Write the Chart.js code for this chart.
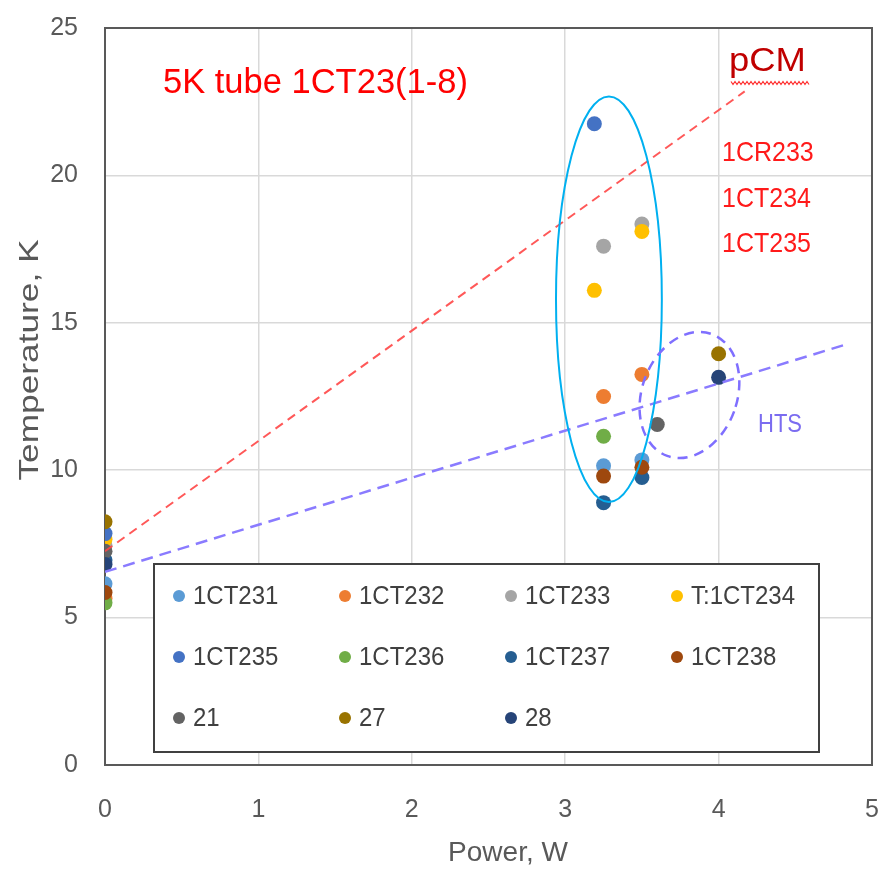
<!DOCTYPE html>
<html>
<head>
<meta charset="utf-8">
<script src="https://cdn.jsdelivr.net/npm/chart.js@4/dist/chart.umd.min.js"></script>
<style>
  html, body { margin: 0; padding: 0; background: #ffffff; }
  #wrap { width: 883px; height: 872px; }
</style>
</head>
<body>
<div id="wrap"><canvas id="c" width="883" height="872"></canvas></div>
<script>
// Sensor names and colours (legend order)
const seriesNames  = ['1CT231', '1CT232', '1CT233', 'T:1CT234', '1CT235', '1CT236', '1CT237', '1CT238', '21', '27', '28'];
const seriesColors = ['#5B9BD5', '#ED7D31', '#A5A5A5', '#FFC000', '#4472C4', '#70AD47', '#255E91', '#9E480E', '#636363', '#997300', '#264478'];

// Heat load (W) and measured temperature (K) for each sensor
const ct231Power = [0, 3.25, 3.5];   const ct231Temp = [6.15, 10.15, 10.35];
const ct232Power = [0, 3.25, 3.5];   const ct232Temp = [5.65, 12.5, 13.25];
const ct233Power = [0, 3.25, 3.5];   const ct233Temp = [7.45, 17.6, 18.35];
const ct234Power = [0, 3.19, 3.5];   const ct234Temp = [7.65, 16.1, 18.1];
const ct235Power = [0, 3.19];        const ct235Temp = [7.85, 21.75];
const ct236Power = [0, 3.25];        const ct236Temp = [5.5, 11.15];
const ct237Power = [0, 3.25, 3.5];   const ct237Temp = [6.95, 8.9, 9.75];
const ct238Power = [0, 3.25, 3.5];   const ct238Temp = [5.85, 9.8, 10.1];
const s21Power   = [0, 3.6];         const s21Temp   = [7.25, 11.55];
const s27Power   = [0, 4.0];         const s27Temp   = [8.25, 13.95];
const s28Power   = [0, 4.0];         const s28Temp   = [6.8, 13.15];

const seriesPower = [ct231Power, ct232Power, ct233Power, ct234Power, ct235Power, ct236Power, ct237Power, ct238Power, s21Power, s27Power, s28Power];
const seriesTemp  = [ct231Temp, ct232Temp, ct233Temp, ct234Temp, ct235Temp, ct236Temp, ct237Temp, ct238Temp, s21Temp, s27Temp, s28Temp];

// Guide lines (pCM and HTS trends)
const pcmLinePower = [0, 4.17];  const pcmLineTemp = [7.25, 22.85];
const htsLinePower = [0, 4.82];  const htsLineTemp = [6.55, 14.25];

// Axis ticks
const xTicks = [0, 1, 2, 3, 4, 5];
const yTicks = [0, 5, 10, 15, 20, 25];

const FONT = "'Liberation Sans', Arial, sans-serif";

function points(px, ty) { return px.map((p, i) => ({ x: p, y: ty[i] })); }

const scatterSets = seriesNames.map((name, i) => ({
  type: 'scatter',
  label: name,
  data: points(seriesPower[i], seriesTemp[i]),
  backgroundColor: seriesColors[i],
  borderColor: seriesColors[i],
  borderWidth: 0,
  pointRadius: 7.5,
  pointHoverRadius: 7.5,
  order: 20 - i
}));

const lineSets = [
  { type: 'line', label: 'pCM', data: points(pcmLinePower, pcmLineTemp), borderColor: 'rgba(255,70,70,0.9)',
    borderWidth: 2, borderDash: [9, 6], pointRadius: 0, fill: false, tension: 0, order: 0 },
  { type: 'line', label: 'HTS', data: points(htsLinePower, htsLineTemp), borderColor: '#8A7BFF',
    borderWidth: 2.5, borderDash: [12, 7], pointRadius: 0, fill: false, tension: 0, order: 0 }
];

// Plot frame, ellipses, boxed legend and text labels
const decor = {
  id: 'decor',
  beforeDatasetsDraw(chart) {
    const { ctx, chartArea: a } = chart;
    ctx.save();
    ctx.strokeStyle = '#595959';
    ctx.lineWidth = 2;
    ctx.strokeRect(a.left, a.top, a.right - a.left, a.bottom - a.top);
    ctx.restore();
  },
  afterDatasetsDraw(chart, args, opts) {
    const { ctx, scales: { x, y } } = chart;
    ctx.save();
    opts.ellipses.forEach(e => {
      const cx = x.getPixelForValue(e.x), cy = y.getPixelForValue(e.y);
      const rx = Math.abs(x.getPixelForValue(e.x + e.rx) - cx);
      const ry = Math.abs(y.getPixelForValue(e.y + e.ry) - cy);
      ctx.beginPath();
      ctx.setLineDash(e.dash || []);
      ctx.lineWidth = e.width;
      ctx.strokeStyle = e.color;
      ctx.ellipse(cx, cy, rx, ry, e.rotation || 0, 0, Math.PI * 2);
      ctx.stroke();
    });
    ctx.setLineDash([]);

    // boxed legend
    const L = opts.legend;
    ctx.fillStyle = '#ffffff';
    ctx.fillRect(L.left, L.top, L.width, L.height);
    ctx.strokeStyle = '#404040';
    ctx.lineWidth = 2;
    ctx.strokeRect(L.left, L.top, L.width, L.height);
    ctx.font = L.fontSize + 'px ' + FONT;
    ctx.textBaseline = 'middle';
    ctx.textAlign = 'left';
    const items = chart.data.datasets.filter(d => d.type === 'scatter');
    items.forEach((d, i) => {
      const col = i % L.columns, row = Math.floor(i / L.columns);
      const cx = L.left + L.firstDotX + col * L.colWidth;
      const cy = L.top + L.firstRowY + row * L.rowHeight;
      ctx.beginPath();
      ctx.fillStyle = d.backgroundColor;
      ctx.arc(cx, cy, L.dotRadius, 0, Math.PI * 2);
      ctx.fill();
      ctx.fillStyle = '#404040';
      ctx.save();
      ctx.translate(cx + L.textGap, cy + 1);
      ctx.scale(1, L.stretch);
      ctx.fillText(d.label, 0, 0);
      ctx.restore();
    });
    ctx.restore();
  },
  afterDraw(chart, args, opts) {
    const { ctx } = chart;
    ctx.save();
    opts.texts.forEach(t => {
      ctx.font = t.size + 'px ' + FONT;
      ctx.fillStyle = t.color;
      ctx.textBaseline = 'middle';
      ctx.textAlign = t.align || 'left';
      ctx.save();
      ctx.translate(t.x, t.y);
      if (t.rotate) ctx.rotate(t.rotate);
      ctx.scale(t.sx || 1, t.sy || 1);
      ctx.fillText(t.text, 0, 0);
      ctx.restore();
    });
    // wavy underline below pCM
    const w = opts.wavy;
    ctx.beginPath();
    ctx.strokeStyle = w.color;
    ctx.lineWidth = 1.2;
    for (let px = w.x0, k = 0; px <= w.x1; px += 2, k++) {
      const py = w.y + (k % 2 === 0 ? -1.5 : 1.5);
      if (k === 0) ctx.moveTo(px, py); else ctx.lineTo(px, py);
    }
    ctx.stroke();
    ctx.restore();
  }
};

new Chart(document.getElementById('c'), {
  type: 'scatter',
  data: { datasets: [...scatterSets, ...lineSets] },
  options: {
    responsive: false,
    animation: false,
    events: [],
    layout: { padding: { top: 28, right: 11, left: 0, bottom: 0 } },
    scales: {
      x: {
        type: 'linear', min: xTicks[0], max: xTicks[xTicks.length - 1],
        afterBuildTicks: s => { s.ticks = xTicks.map(v => ({ value: v })); },
        afterFit: s => { s.height = 107; s.paddingLeft = 0; s.paddingRight = 0; },
        grid: { color: '#D9D9D9', lineWidth: 1.5, drawTicks: false },
        border: { display: false },
        ticks: { padding: 30, color: '#595959', font: { family: FONT, size: 25 } }
      },
      y: {
        type: 'linear', min: yTicks[0], max: yTicks[yTicks.length - 1],
        afterBuildTicks: s => { s.ticks = yTicks.map(v => ({ value: v })); },
        afterFit: s => { s.width = 105; s.paddingTop = 0; s.paddingBottom = 0; },
        grid: { color: '#D9D9D9', lineWidth: 1.5, drawTicks: false },
        border: { display: false },
        ticks: { padding: 27, color: '#595959', font: { family: FONT, size: 25 } }
      }
    },
    plugins: {
      legend: { display: false },
      tooltip: { enabled: false },
      decor: {
        ellipses: [
          { x: 3.285, y: 15.8, rx: 0.345, ry: 6.88, color: '#00B0F0', width: 2 },
          { x: 3.81, y: 12.55, rx: 0.31, ry: 2.2, rotation: 0.35, color: '#7F6FFF', width: 2.5, dash: [10, 7] }
        ],
        legend: { left: 154, top: 564, width: 665, height: 188, columns: 4, firstDotX: 25, colWidth: 166,
                  firstRowY: 32, rowHeight: 61, dotRadius: 6, textGap: 14, fontSize: 24, stretch: 1.1 },
        texts: [
          { text: '5K tube 1CT23(1-8)', x: 163, y: 83, size: 34.5, color: '#FF0000' },
          { text: 'pCM', x: 729, y: 62, size: 34, sx: 1.07, color: '#C00000' },
          { text: '1CR233', x: 722, y: 153, size: 25, sy: 1.12, color: '#FF1A1A' },
          { text: '1CT234', x: 722, y: 199, size: 25, sy: 1.12, color: '#FF1A1A' },
          { text: '1CT235', x: 722, y: 244, size: 25, sy: 1.12, color: '#FF1A1A' },
          { text: 'HTS', x: 758, y: 425, size: 22, sy: 1.2, color: '#7B6CF0' },
          { text: 'Power, W', x: 508, y: 853, size: 28, color: '#595959', align: 'center' },
          { text: 'Temperature, K', x: 30, y: 360, size: 28, sx: 1.26, color: '#595959', align: 'center', rotate: -Math.PI / 2 }
        ],
        wavy: { x0: 731, x1: 810, y: 83, color: '#FF3030' }
      }
    }
  },
  plugins: [decor]
});
</script>
</body>
</html>
